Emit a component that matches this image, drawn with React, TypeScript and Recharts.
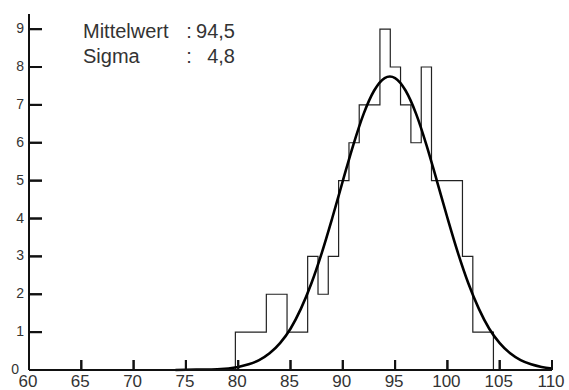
import React from "react";
import { LineChart, Line, XAxis, YAxis } from "recharts";

// Histogram bin edges (left edge of each bin, plus final right edge)
const binEdges = [
  79.73, 80.72, 81.7, 82.69, 83.68, 84.67, 85.65, 86.64, 87.63, 88.61, 89.6,
  90.59, 91.57, 92.56, 93.55, 94.54, 95.52, 96.51, 97.5, 98.48, 99.47, 100.46,
  101.44, 102.43, 103.42, 104.4,
];
// Counts per bin
const binCounts = [1, 1, 1, 2, 2, 1, 1, 3, 2, 3, 5, 6, 7, 7, 9, 8, 7, 6, 8, 5, 5, 5, 3, 1, 1];

// Fitted normal curve
const curveX = [74, 76, 78, 80, 81, 82, 83, 84, 85, 86, 87, 88, 89, 90, 91, 92, 93, 94, 94.5, 95, 96, 97, 98, 99, 100, 101, 102, 103, 104, 105, 106, 107, 108, 109, 110];
const curveY = [0.0, 0.01, 0.02, 0.08, 0.15, 0.26, 0.44, 0.71, 1.09, 1.62, 2.29, 3.1, 4.02, 4.99, 5.94, 6.77, 7.38, 7.71, 7.75, 7.71, 7.38, 6.77, 5.94, 4.99, 4.02, 3.1, 2.29, 1.62, 1.09, 0.71, 0.44, 0.26, 0.15, 0.08, 0.04];

// Axis ticks
const xMajorTicks = [60, 65, 70, 75, 80, 85, 90, 95, 100, 105, 110];
const yMajorTicks = [0, 1, 2, 3, 4, 5, 6, 7, 8, 9];
const xMinorStep = 1;
const yMinorStep = 0.2;
const xDomain = [60, 110];
const yDomain = [0, 9.4];

// Statistics text
const statLabels = ["Mittelwert", "Sigma"];
const statValues = ["94,5", "4,8"];

const histData: { x: number; y: number }[] = [];
histData.push({ x: binEdges[0], y: 0 });
binCounts.forEach((c, i) => histData.push({ x: binEdges[i], y: c }));
histData.push({ x: binEdges[binEdges.length - 1], y: 0 });

const curveData = curveX.map((x, i) => ({ x, y: curveY[i] }));

const xAllTicks: number[] = [];
for (let v = xDomain[0]; v <= xDomain[1] + 1e-9; v += xMinorStep) xAllTicks.push(Math.round(v * 100) / 100);
const yAllTicks: number[] = [];
for (let i = 0; i * yMinorStep <= yDomain[1] + 1e-9; i++) yAllTicks.push(Math.round(i * yMinorStep * 100) / 100);

const FONT = "'Liberation Sans', Arial, sans-serif";
const TEXT_COLOR = "#333";
const TICK_COLOR = "#111";
const tickStroke = { stroke: TICK_COLOR, strokeWidth: 2 };

// Main Y axis: tickSize -13, tickMargin 18 => label anchor x = axisX - 5
function renderYTick(props: any) {
  const { x, y, payload } = props;
  const v = payload.value;
  const axisX = x + 5;
  return (
    <g key={`yt-${v}`}>
      <rect x={axisX} y={y - 1} width={13} height={2} fill={TICK_COLOR} />
      <text x={v === 0 ? x - 5 : x} y={y} dy={4} textAnchor="end" fontSize={14} fontFamily={FONT} fill={TEXT_COLOR}>
        {v}
      </text>
    </g>
  );
}

// Main X axis: tickSize -10, tickMargin 10 => label anchor y = axisY
function renderXTick(props: any) {
  const { x, y, payload } = props;
  const v = payload.value;
  return (
    <g key={`xt-${v}`}>
      <rect x={x - 1} y={y - 10} width={2} height={10} fill={TICK_COLOR} />
      <text x={x - 1} y={y + 17} textAnchor="middle" fontSize={17} fontFamily={FONT} fill={TEXT_COLOR}>
        {v}
      </text>
    </g>
  );
}

// Minor Y axis: tickSize -6, tickMargin 6 => anchor x = axisX
function renderYMinor(props: any) {
  const { x, y, payload } = props;
  return <rect key={`ym-${payload.value}`} x={x} y={y - 1} width={6} height={2} fill={TICK_COLOR} />;
}

// Minor X axis: tickSize -5, tickMargin 5 => anchor y = axisY
function renderXMinor(props: any) {
  const { x, y, payload } = props;
  return <rect key={`xm-${payload.value}`} x={x - 1} y={y - 5} width={2} height={5} fill={TICK_COLOR} />;
}

const textStyle: React.CSSProperties = {
  position: "absolute",
  fontFamily: FONT,
  fontSize: 20,
  lineHeight: "20px",
  color: TEXT_COLOR,
  whiteSpace: "nowrap",
};

export default function App() {
  return (
    <div style={{ position: "absolute", left: 0, top: 0, width: 569, height: 390 }}>
      <LineChart width={569} height={390} margin={{ top: 14, right: 17, bottom: 0, left: 0 }}>
        <XAxis
          xAxisId="minor"
          type="number"
          domain={xDomain}
          ticks={xAllTicks}
          interval={0}
          tickSize={-5}
          tickMargin={5}
          tickLine={tickStroke}
          tick={renderXMinor}
          axisLine={false}
          height={0}
          allowDataOverflow
        />
        <YAxis
          yAxisId="minor"
          type="number"
          domain={yDomain}
          ticks={yAllTicks}
          interval={0}
          tickSize={-6}
          tickMargin={6}
          tickLine={tickStroke}
          tick={renderYMinor}
          axisLine={false}
          width={0}
          allowDataOverflow
        />
        <XAxis
          dataKey="x"
          type="number"
          domain={xDomain}
          ticks={xMajorTicks}
          interval={0}
          tickSize={-10}
          tickMargin={10}
          tickLine={tickStroke}
          tick={renderXTick}
          axisLine={tickStroke}
          height={20}
        />
        <YAxis
          dataKey="y"
          type="number"
          domain={yDomain}
          ticks={yMajorTicks}
          interval={0}
          tickSize={-13}
          tickMargin={18}
          tickLine={tickStroke}
          tick={renderYTick}
          axisLine={tickStroke}
          width={29}
        />
        <Line
          data={histData}
          dataKey="y"
          type="stepAfter"
          stroke="#222"
          strokeWidth={1.2}
          dot={false}
          activeDot={false}
          isAnimationActive={false}
        />
        <Line
          data={curveData}
          dataKey="y"
          type="monotone"
          stroke="#000"
          strokeWidth={2.6}
          dot={false}
          activeDot={false}
          isAnimationActive={false}
        />
      </LineChart>
      {statLabels.map((lab, i) => (
        <React.Fragment key={lab}>
          <div style={{ ...textStyle, left: 83, top: 21 + i * 25 }}>{lab}</div>
          <div style={{ ...textStyle, left: 179, width: 20, textAlign: "center", top: 21 + i * 25 }}>:</div>
          <div style={{ ...textStyle, right: 569 - 235, textAlign: "right", top: 21 + i * 25 }}>{statValues[i]}</div>
        </React.Fragment>
      ))}
    </div>
  );
}
